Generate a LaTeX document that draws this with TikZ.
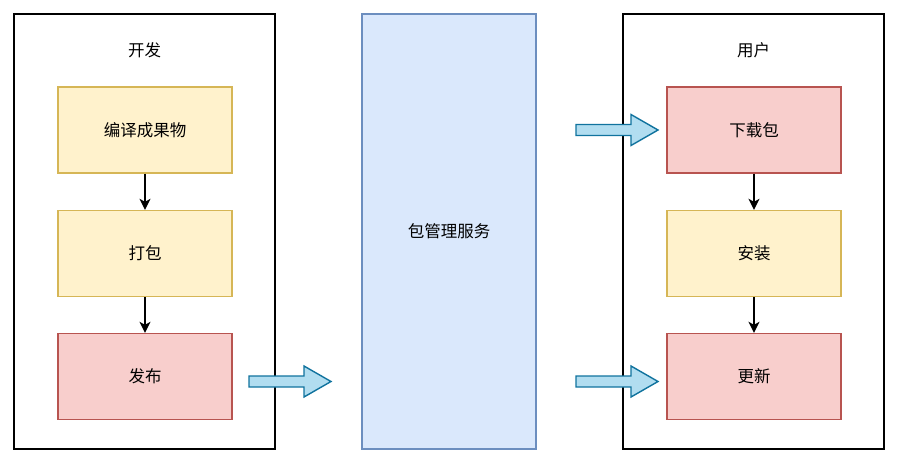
\documentclass[tikz,border=0pt]{standalone}
\usepackage{fontspec}
\setmainfont{Noto Sans CJK SC}
\usetikzlibrary{arrows.meta}
\definecolor{yfill}{HTML}{FFF2CC}\definecolor{ydraw}{HTML}{D6B656}
\definecolor{rfill}{HTML}{F8CECC}\definecolor{rdraw}{HTML}{B85450}
\definecolor{bfill}{HTML}{DAE8FC}\definecolor{bdraw}{HTML}{6C8EBF}
\definecolor{afill}{HTML}{B1DDF0}\definecolor{adraw}{HTML}{10739E}
\begin{document}
\begin{tikzpicture}[x=1pt,y=-1pt,
  every node/.style={font=\fontsize{16.5}{18}\selectfont, inner sep=0pt},
  frame/.style={draw=black, line width=1.4pt, fill=white, minimum width=261pt, minimum height=435pt},
  ybox/.style={draw=ydraw, fill=yfill, line width=1.4pt, minimum width=174pt, minimum height=86pt},
  rbox/.style={draw=rdraw, fill=rfill, line width=1.4pt, minimum width=174pt, minimum height=86pt},
  bbox/.style={draw=bdraw, fill=bfill, line width=1.4pt, minimum width=174pt, minimum height=435pt},
  flow/.style={line width=1.4pt, -{Stealth[length=11pt,width=11pt,inset=3pt]}},
  blockarrow/.style={draw=adraw, fill=afill, line width=1.4pt, line join=miter}]
\useasboundingbox (0,0) rectangle (905,456);
\node[frame] (dev) at (144.5,231.5) {};
\node (devt) at (144.5,50) {开发};
\node[ybox] (compile) at (145,130) {编译成果物};
\node[ybox] (pack) at (145,253.5) {打包};
\node[rbox] (publish) at (145,376.5) {发布};
\draw[flow] (compile) -- (pack);
\draw[flow] (pack) -- (publish);

\node[bbox] (svc) at (449,231.5) {包管理服务};

\node[frame] (user) at (753.5,231.5) {};
\node (usert) at (753.5,50) {用户};
\node[rbox] (down) at (754,130) {下载包};
\node[ybox] (inst) at (754,253.5) {安装};
\node[rbox] (upd) at (754,376.5) {更新};
\draw[flow] (down) -- (inst);
\draw[flow] (inst) -- (upd);

% block arrows
\draw[blockarrow] (249,376) -- (304,376) -- (304,366) -- (331,381.5) -- (304,397) -- (304,387) -- (249,387) -- cycle;
\draw[blockarrow] (576,124.5) -- (631,124.5) -- (631,114.5) -- (658,130) -- (631,145.5) -- (631,135.5) -- (576,135.5) -- cycle;
\draw[blockarrow] (576,376) -- (631,376) -- (631,366) -- (658,381.5) -- (631,397) -- (631,387) -- (576,387) -- cycle;
\end{tikzpicture}
\end{document}
